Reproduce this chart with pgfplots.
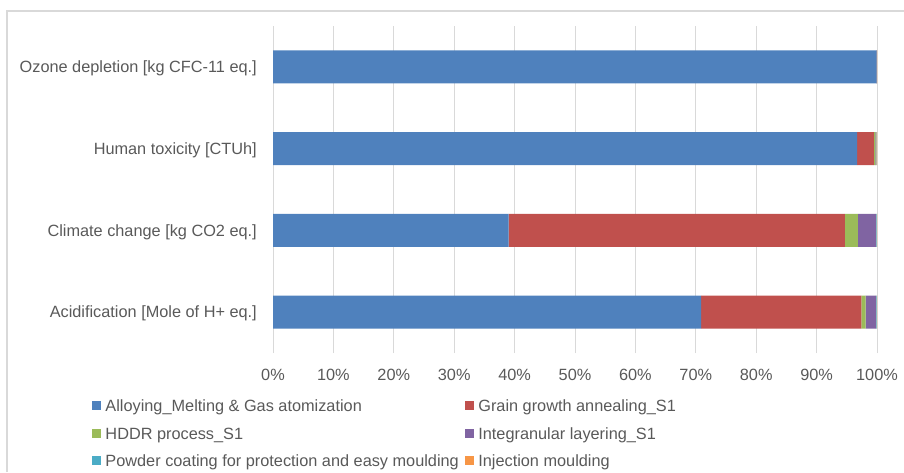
\documentclass[border=0pt]{standalone}
\usepackage{pgfplots}
\pgfplotsset{compat=1.18}
\usepackage{fontspec}
\setmainfont{Liberation Sans}
\definecolor{cBlue}{HTML}{4F81BD}
\definecolor{cRed}{HTML}{C0504D}
\definecolor{cGreen}{HTML}{9BBB59}
\definecolor{cPurple}{HTML}{8064A2}
\definecolor{cCyan}{HTML}{4BACC6}
\definecolor{cOrange}{HTML}{F79646}
\definecolor{cGrid}{HTML}{D9D9D9}
\definecolor{cText}{HTML}{595959}
\begin{document}
\begin{tikzpicture}[font=\fontsize{16.3pt}{19pt}\selectfont]
\useasboundingbox (0,0) rectangle (904pt,472pt);
\draw[cGrid, line width=1.3pt] (7pt,0) -- (7pt,461pt) -- (904pt,461pt);
\begin{axis}[
  at={(273pt,119pt)}, anchor=south west,
  scale only axis, width=604pt, height=327pt,
  xbar stacked, bar width=33pt,
  xmin=0, xmax=100, ymin=-0.5, ymax=3.5,
  axis line style={draw=none},
  xtick={0,10,...,100},
  ytick={0,1,2,3},
  yticklabels={Acidification [Mole of H+ eq.],Climate change [kg CO2 eq.],Human toxicity [CTUh],Ozone depletion [kg CFC-11 eq.]},
  xticklabel={\pgfmathprintnumber{\tick}\%},
  /pgf/number format/assume math mode=true,
  xmajorgrids, grid style={cGrid, line width=1pt},
  major tick length=0pt,
  tick style={draw=none},
  tick label style={text=cText, inner sep=0pt},
  x tick label style={anchor=north, yshift=-16pt},
  y tick label style={anchor=east, xshift=-16pt, yshift=-1.5pt},
  legend columns=2,
  legend style={draw=none, fill=none, at={(-0.2997,-0.143)}, anchor=north west,
    inner sep=0pt, outer sep=0pt, text=cText,
    nodes={inner sep=0pt, text height=12pt, text depth=4pt, anchor=base west},
    row sep=11.5pt,
    /tikz/every odd column/.append style={column sep=4.5pt},
    /tikz/every even column/.append style={column sep=6pt}},
  legend image code/.code={\fill[#1] (0pt,1.3pt) rectangle (9pt,10.3pt);},
]
\addplot[fill=cBlue, draw=none] coordinates {(70.9,0) (39.0,1) (96.7,2) (99.95,3)};
\addplot[fill=cRed, draw=none] coordinates {(26.5,0) (55.7,1) (2.8,2) (0.02,3)};
\addplot[fill=cGreen, draw=none] coordinates {(0.7,0) (2.15,1) (0.25,2) (0.01,3)};
\addplot[fill=cPurple, draw=none] coordinates {(1.7,0) (2.95,1) (0.05,2) (0.01,3)};
\addplot[fill=cCyan, draw=none] coordinates {(0.15,0) (0.15,1) (0.1,2) (0.005,3)};
\addplot[fill=cOrange, draw=none] coordinates {(0.05,0) (0.05,1) (0.1,2) (0.005,3)};
\legend{Alloying\_Melting \& Gas atomization, Grain growth annealing\_S1, HDDR process\_S1, Integranular layering\_S1, Powder coating for protection and easy moulding, Injection moulding}
\end{axis}
\end{tikzpicture}
\end{document}
